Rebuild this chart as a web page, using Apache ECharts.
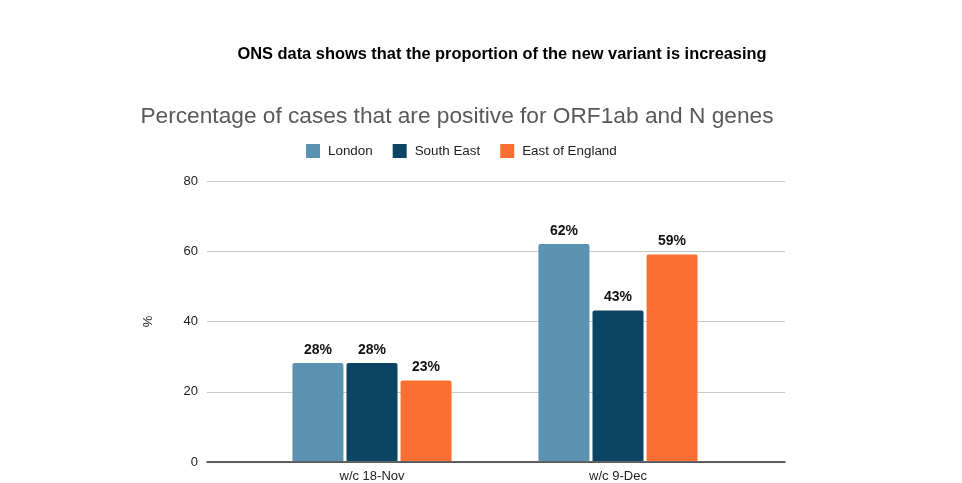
<!DOCTYPE html>
<html><head><meta charset="utf-8">
<script src="https://cdn.jsdelivr.net/npm/echarts@6/dist/echarts.min.js"></script>
<style>html,body{margin:0;padding:0;background:#fff}#c{width:962px;height:483px}</style>
</head><body><div id="c"></div>
<script>
const categories = ['w/c 18-Nov', 'w/c 9-Dec'];
const london = [28, 62];
const southEast = [28, 43];
const eastOfEngland = [23, 59];
const yTicks = [0, 20, 40, 60, 80];

const chart = echarts.init(document.getElementById('c'));
const font = 'Liberation Sans, Arial, sans-serif';
const lbl = {show: true, position: 'top', formatter: '{c}%', fontWeight: 'bold', fontSize: 14, color: '#111', fontFamily: font, distance: 6};
function bar(name, data, color) {
  return {name, type: 'bar', data, xAxisIndex: 1, yAxisIndex: 1, barWidth: 51, barGap: '6%',
    itemStyle: {color, borderRadius: [2,2,0,0]}, label: lbl};
}
chart.setOption({
  backgroundColor: '#fff',
  animation: false,
  title: [
    {text: 'ONS data shows that the proportion of the new variant is increasing', left: 497, top: 41, textAlign: 'center',
     textStyle: {fontSize: 16.4, fontWeight: 'bold', color: '#000', fontFamily: font}},
    {text: 'Percentage of cases that are positive for ORF1ab and N genes', left: 452, top: 100, textAlign: 'center',
     textStyle: {fontSize: 22.7, fontWeight: 'normal', color: '#595959', fontFamily: font}}
  ],
  legend: {top: 144, left: 306, padding: 0, itemWidth: 14, itemHeight: 14, itemGap: 20, icon: 'rect',
    textStyle: {fontSize: 13.4, color: '#222', fontFamily: font, padding: [0, 0, 0, 3]},
    data: ['London', 'South East', 'East of England']},
  grid: [
    {left: 207, right: 177, top: 181, bottom: 21},
    {left: 249, right: 221, top: 181, bottom: 21}
  ],
  xAxis: [
    {gridIndex: 0, type: 'category', data: categories, axisLine: {lineStyle: {color: '#333', width: 1.5}},
     axisTick: {show: false}, axisLabel: {show: false}},
    {gridIndex: 1, type: 'category', data: categories, axisLine: {show: false}, axisTick: {show: false},
     axisLabel: {fontSize: 13, color: '#222', fontFamily: font, margin: 9}}
  ],
  yAxis: [
    {gridIndex: 0, type: 'value', min: 0, max: 80, interval: 20, name: '%', nameLocation: 'middle', nameGap: 52,
     nameTextStyle: {fontSize: 13, color: '#222', fontFamily: font},
     axisLabel: {fontSize: 13, color: '#222', fontFamily: font, margin: 9},
     splitLine: {lineStyle: {color: '#c8c8c8'}}, axisLine: {show: false}, axisTick: {show: false}},
    {gridIndex: 1, type: 'value', min: 0, max: 80, interval: 20, show: false, splitLine: {show: false}}
  ],
  series: [
    bar('London', london, '#5b91b1'),
    bar('South East', southEast, '#0c4463'),
    bar('East of England', eastOfEngland, '#fb7032')
  ]
});
</script></body></html>
